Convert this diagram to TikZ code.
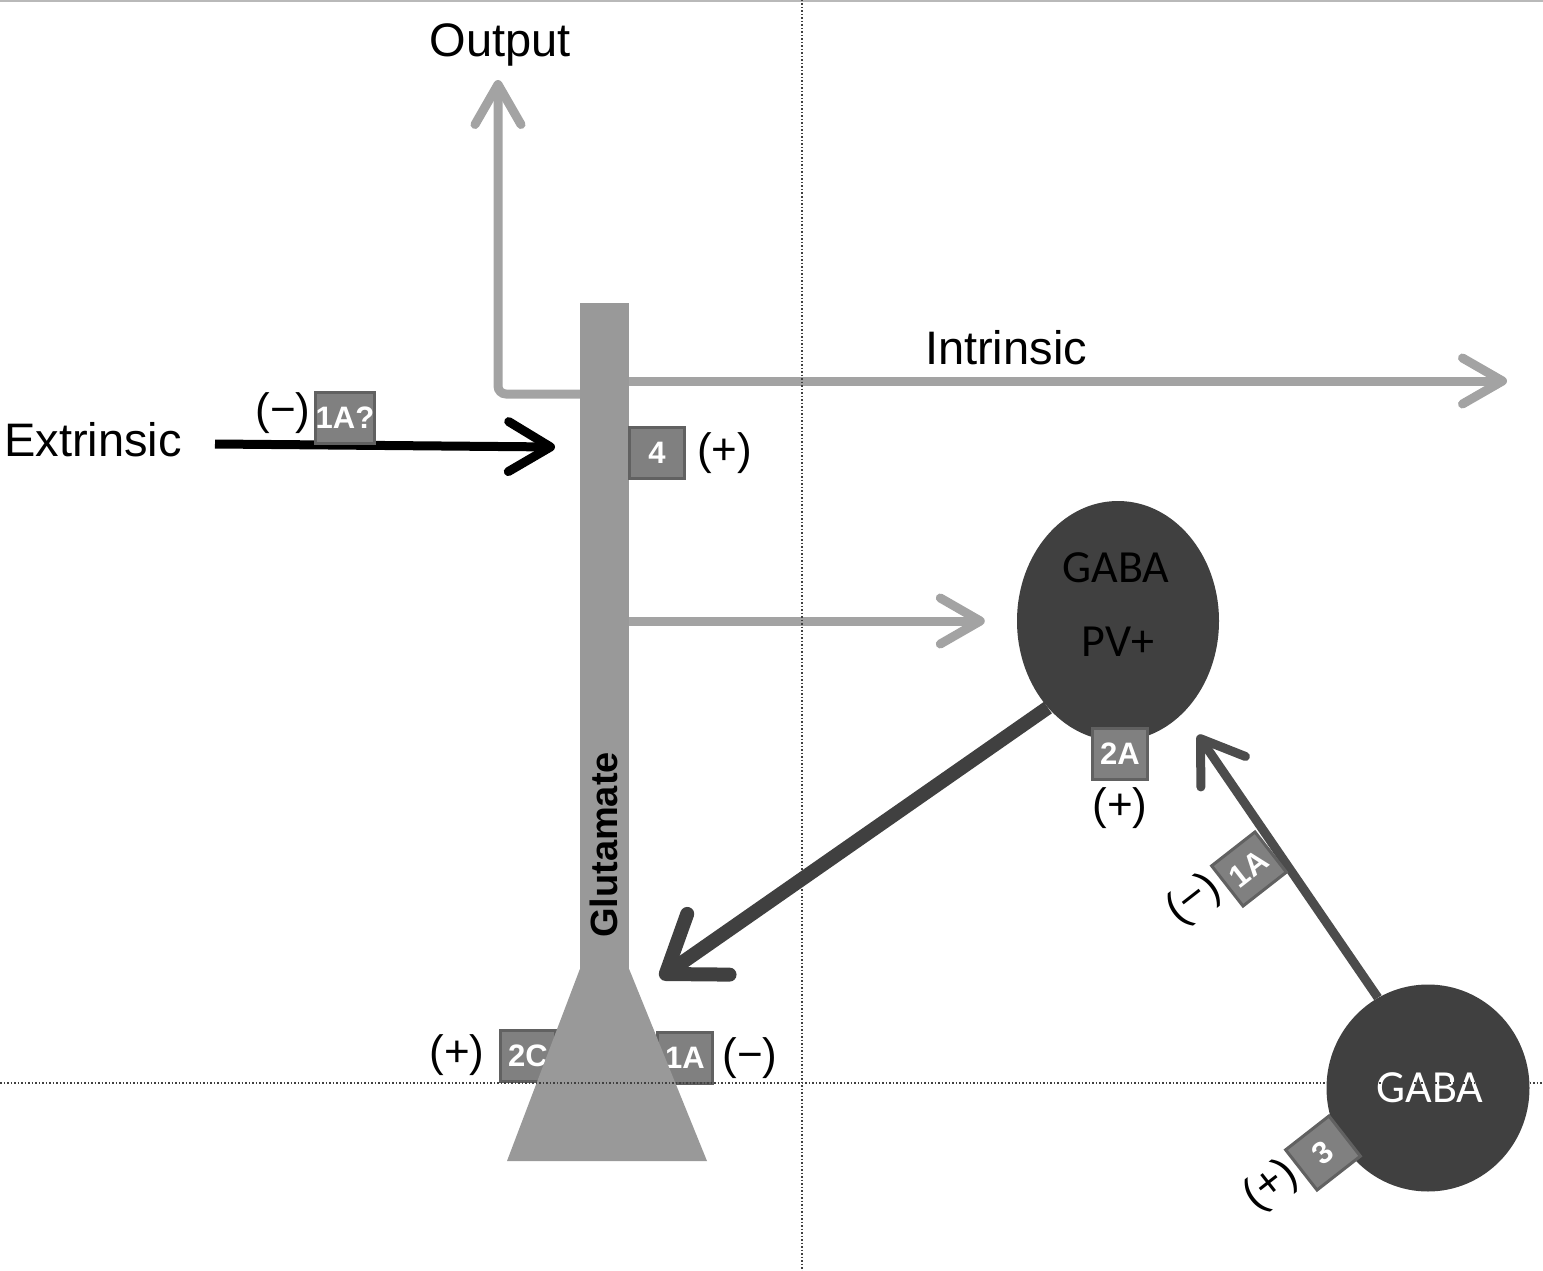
\documentclass[tikz,border=0pt]{standalone}
\usepackage{fontspec}
\setmainfont{Liberation Sans}
\newfontfamily\calibri{Carlito}
\usetikzlibrary{arrows.meta,shapes.geometric,positioning}

\definecolor{barGray}{gray}{0.6}
\definecolor{axonGray}{gray}{0.64}
\definecolor{cellDark}{gray}{0.25}
\definecolor{midDark}{gray}{0.3}
\definecolor{boxFill}{gray}{0.5}
\definecolor{boxLine}{gray}{0.38}

\begin{document}
\begin{tikzpicture}
[x=1pt,y=-1pt,
 lbl/.style={font=\fontsize{47}{56}\selectfont,inner sep=0pt},
 sgn/.style={font=\fontsize{44}{52}\selectfont,inner sep=0pt},
 rcpt/.style={draw=boxLine,line width=3pt,fill=boxFill,text=white,
   minimum width=55pt,minimum height=51pt,inner sep=0pt,
   font=\fontsize{31}{34}\selectfont\bfseries},
 bar/.style={fill=barGray,minimum width=49pt,minimum height=666pt,inner sep=0pt},
 cell/.style={ellipse,fill=cellDark,inner sep=0pt},
 celltxt/.style={font=\calibri\fontsize{46}{54}\selectfont,inner sep=0pt},
 lightaxon/.style={draw=axonGray,line width=9pt,-{Straight Barb[length=40pt,width=46pt,round]}},
 extaxon/.style={draw=black,line width=9pt,-{Straight Barb[length=42pt,width=50pt,round]}},
 darkaxon/.style={draw=cellDark,line width=14pt,-{Straight Barb[length=52pt,width=74pt,round]}},
 midaxon/.style={draw=midDark,line width=9pt,-{Straight Barb[length=40pt,width=54pt,round]}},
 guide/.style={draw=black!75,dotted,line width=1.5pt}]
\useasboundingbox (0,0) rectangle (1543,1271);
\draw[gray!55,line width=2pt] (0,1) -- (1543,1);

% glutamate cell
\node[bar] (dend) at (604.5,636) {};
\node[rcpt] (r2c) at (528,1056) {2C};
\node[rcpt] (r1c) at (685,1058) {1A};
\fill[barGray] (dend.south west) -- (dend.south east) -- (707,1161) -- (507,1161) -- cycle;
\node[rotate=90,font=\fontsize{38}{44}\selectfont\bfseries,inner sep=0pt] (glutxt) at (604,845) {Glutamate};
\node[sgn] at (457,1055) {(+)};
\node[sgn] at (750,1058) {(−)};

% interneurons
\node[cell,minimum width=202pt,minimum height=240pt] (pv) at (1118,621) {};
\node[celltxt] at (1116,568) {GABA};
\node[celltxt] at (1118,642) {PV+};
\node[cell,minimum width=203pt,minimum height=207pt] (gaba) at (1428,1088) {};
\node[celltxt,text=white] at (1430,1088) {GABA};

% labels
\node[lbl] (outlbl) at (500,45) {Output};
\node[lbl] (intlbl) at (1006,348) {Intrinsic};
\node[lbl] (extlbl) at (93,440) {Extrinsic};

% connectors
\coordinate (bend) at (498,394);
\coordinate (outtip) at (498,80);
\coordinate (intip) at (1507,381);
\coordinate (extout) at (215,444);
\coordinate (extin) at (555,447);
\coordinate (somatip) at (660,978);
\coordinate (pvtip) at (1198,735);
\draw[lightaxon,rounded corners=8pt] (dend.west |- bend) -- (bend) -- (outtip);
\draw[lightaxon] (dend.east |- intip) -- (intip);
\draw[extaxon] (extout) -- (extin);
\draw[lightaxon,shorten >=32pt] (dend.east |- pv.west) -- (pv.west);
\draw[darkaxon] (pv.231) -- (somatip);
\draw[midaxon] (gaba.119) -- (pvtip);

% receptors
\node[rcpt] (r1q) at (345,418) {1A?};
\node[sgn] at (283,413) {(−)};
\node[rcpt] (r4) at (657,453) {4};
\node[sgn,right=11pt of r4] {(+)};
\node[rcpt] (r2a) at (1120,754) {2A};
\node[sgn] at (1120,808) {(+)};
\node[rcpt,rotate=38] (r1b) at (1249,869) {1A};
\node[sgn,rotate=38] at (1194,900) {(−)};
\node[rcpt,rotate=38] (r3) at (1323,1153) {3};
\node[sgn,rotate=38] at (1271,1186) {(+)};

\draw[guide] (802,0) -- (802,1271);
\draw[guide] (0,1083) -- (1543,1083);
\end{tikzpicture}
\end{document}
